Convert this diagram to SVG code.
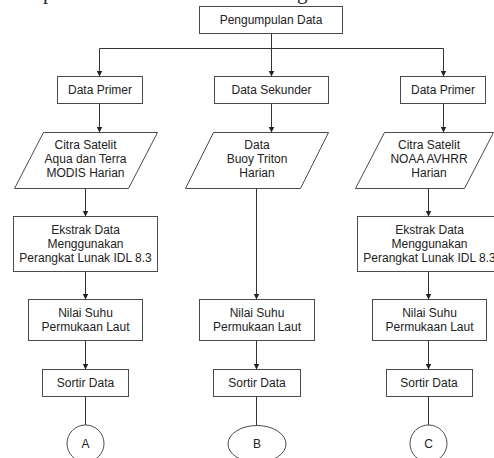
<svg xmlns="http://www.w3.org/2000/svg" width="494" height="458" viewBox="0 0 494 458">
<style>
.box{fill:#fff;stroke:#4a4a4a;stroke-width:1}
.t{font-family:"Liberation Sans",Arial,sans-serif;font-size:12px;fill:#222;text-anchor:middle}
.c{fill:none;stroke:#333;stroke-width:1}
.a{marker-end:url(#ah)}
.frag{font-family:"Liberation Serif","Times New Roman",serif;font-size:21px;fill:#222}
</style>
<defs>
<marker id="ah" markerWidth="6" markerHeight="7" refX="5.5" refY="3.5" orient="auto" markerUnits="userSpaceOnUse" viewBox="0 0 6 7">
<path d="M0,0.5 L6,3.5 L0,6.5 Z" fill="#222"/>
</marker>
</defs>
<rect width="494" height="458" fill="#fff"/>
<text class="frag" x="43" y="-1">p</text>
<text class="frag" x="297" y="-1">g</text>
<g id="connectors">
<path class="c" d="M271.5,34 V48.5 M99.5,48.5 H443.5"/>
<path class="c a" d="M271.5,48.5 V76"/>
<path class="c a" d="M99.5,48.5 V76"/>
<path class="c a" d="M443.5,48.5 V76"/>
<path class="c a" d="M99.5,104 V132"/>
<path class="c a" d="M271.5,104 V132"/>
<path class="c a" d="M443.5,104 V132"/>
<path class="c a" d="M85.5,188 V216"/>
<path class="c a" d="M428.5,188 V216"/>
<path class="c a" d="M256.5,188 V299"/>
<path class="c a" d="M85.5,272 V299"/>
<path class="c a" d="M428.5,272 V299"/>
<path class="c a" d="M85.5,341 V369"/>
<path class="c a" d="M256.5,341 V369"/>
<path class="c a" d="M428.5,341 V369"/>
<path class="c" d="M85.5,397 V425"/>
<path class="c" d="M256.5,397 V425.5"/>
<path class="c" d="M428.5,397 V425"/>
</g>
<g id="n-pengumpulan"><rect class="box" x="199.5" y="6.5" width="143" height="27"/><text class="t" x="271" y="24">Pengumpulan Data</text></g>
<g id="n-primer-1"><rect class="box" x="57.5" y="76.5" width="85" height="27"/><text class="t" x="100" y="94">Data Primer</text></g>
<g id="n-sekunder"><rect class="box" x="214.5" y="76.5" width="114" height="27"/><text class="t" x="271.5" y="94">Data Sekunder</text></g>
<g id="n-primer-2"><rect class="box" x="400.5" y="76.5" width="85" height="27"/><text class="t" x="443" y="94">Data Primer</text></g>
<g id="n-citra-modis"><polygon class="box" points="43.5,132.5 157.5,132.5 128.5,188.5 14.5,188.5"/><text class="t" x="85.5" y="149">Citra Satelit</text><text class="t" x="85.5" y="163">Aqua dan Terra</text><text class="t" x="85.5" y="177">MODIS Harian</text></g>
<g id="n-buoy"><polygon class="box" points="213.5,132.5 328.5,132.5 300.5,188.5 185.5,188.5"/><text class="t" x="257" y="149">Data</text><text class="t" x="257" y="163">Buoy Triton</text><text class="t" x="257" y="177">Harian</text></g>
<g id="n-citra-noaa"><polygon class="box" points="384.5,132.5 493.5,132.5 464.5,188.5 355.5,188.5"/><text class="t" x="429" y="149">Citra Satelit</text><text class="t" x="429" y="163">NOAA AVHRR</text><text class="t" x="429" y="177">Harian</text></g>
<g id="n-ekstrak-1"><rect class="box" x="13.5" y="216.5" width="144" height="55"/><text class="t" x="85.5" y="234">Ekstrak Data</text><text class="t" x="85.5" y="248">Menggunakan</text><text class="t" x="85.5" y="262">Perangkat Lunak IDL 8.3</text></g>
<g id="n-ekstrak-2"><rect class="box" x="357.5" y="216.5" width="144" height="55"/><text class="t" x="429.5" y="234">Ekstrak Data</text><text class="t" x="429.5" y="248">Menggunakan</text><text class="t" x="429.5" y="262">Perangkat Lunak IDL 8.3</text></g>
<g id="n-nilai-1"><rect class="box" x="28.5" y="299.5" width="114" height="41"/><text class="t" x="85.5" y="317">Nilai Suhu</text><text class="t" x="85.5" y="331">Permukaan Laut</text></g>
<g id="n-nilai-2"><rect class="box" x="199.5" y="299.5" width="115" height="41"/><text class="t" x="257" y="317">Nilai Suhu</text><text class="t" x="257" y="331">Permukaan Laut</text></g>
<g id="n-nilai-3"><rect class="box" x="372.5" y="299.5" width="114" height="41"/><text class="t" x="429.5" y="317">Nilai Suhu</text><text class="t" x="429.5" y="331">Permukaan Laut</text></g>
<g id="n-sortir-1"><rect class="box" x="42.5" y="369.5" width="86" height="27"/><text class="t" x="85.5" y="387">Sortir Data</text></g>
<g id="n-sortir-2"><rect class="box" x="213.5" y="369.5" width="87" height="27"/><text class="t" x="257" y="387">Sortir Data</text></g>
<g id="n-sortir-3"><rect class="box" x="386.5" y="369.5" width="86" height="27"/><text class="t" x="429" y="387">Sortir Data</text></g>
<g id="n-a"><circle class="box" cx="85.5" cy="443.5" r="18.5"/><text class="t" x="85.5" y="447.5">A</text></g>
<g id="n-b"><ellipse class="box" cx="257" cy="444" rx="29" ry="18.5"/><text class="t" x="257" y="448">B</text></g>
<g id="n-c"><circle class="box" cx="428.5" cy="443.5" r="18.5"/><text class="t" x="428.5" y="447.5">C</text></g>
</svg>
